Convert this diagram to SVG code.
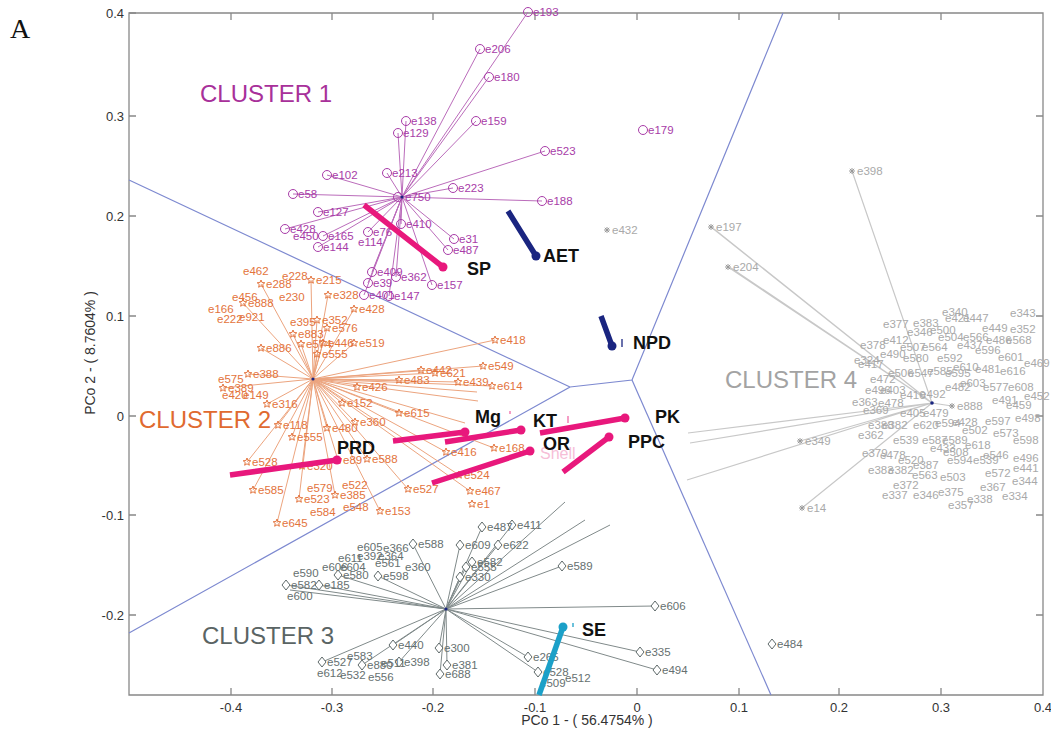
<svg xmlns="http://www.w3.org/2000/svg" width="1051" height="729" viewBox="0 0 1051 729">
<style>
text{font-family:"Liberation Sans",Arial,sans-serif}
.l1{fill:none;stroke:#bb6cbb;stroke-width:1}
.l2{fill:none;stroke:#eca47e;stroke-width:1}
.l3{fill:none;stroke:#808a8a;stroke-width:1}
.l4{fill:none;stroke:#c8c8c8;stroke-width:1.2}
.t1{font-size:11.5px;fill:#a83ca8}
.t2{font-size:11.5px;fill:#e3733c}
.t3{font-size:11.5px;fill:#667070}
.t4{font-size:11.5px;fill:#a9a9a9}
.vor{fill:none;stroke:#7d89d0;stroke-width:1.2}
.vec{fill:none;stroke-width:5.5}
.var{font-size:18px;font-weight:bold;fill:#111}
.cl{font-size:24px}
.tick{font-size:13px;fill:#333}
.ax{fill:none;stroke:#888;stroke-width:1.3}
</style>
<defs>
<circle id="m1" r="4.5" fill="none" stroke="#a83ca8" stroke-width="1"/>
<path id="m2" d="M0,-4L1.06,-1.46L3.8,-1.24L1.71,0.56L2.35,3.24L0,1.8L-2.35,3.24L-1.71,0.56L-3.8,-1.24L-1.06,-1.46Z" fill="none" stroke="#e3733c" stroke-width="1"/>
<path id="m3" d="M0,-5L4,0L0,5L-4,0Z" fill="#fff" stroke="#5f6a6a" stroke-width="1"/>
<path id="m4" d="M-3,0H3M0,-3V3M-2.2,-2.2L2.2,2.2M-2.2,2.2L2.2,-2.2" fill="none" stroke="#999" stroke-width="1"/>
</defs>
<rect width="1051" height="729" fill="#fff"/>
<text x="10" y="38" style="font-family:'Liberation Serif',serif;font-size:28px" fill="#111">A</text>

<g id="axes">
<path class="ax" d="M129,13H1043V695H129Z"/>
<path class="ax" d="M231,13v7M332,13v7M433,13v7M535,13v7M637,13v7M739,13v7M839,13v7M941,13v7M231,695v-7M332,695v-7M433,695v-7M535,695v-7M637,695v-7M739,695v-7M839,695v-7M941,695v-7M129,13h7M129,116h7M129,216h7M129,316h7M129,416h7M129,515h7M129,615h7M1043,116h-7M1043,216h-7M1043,316h-7M1043,416h-7M1043,515h-7M1043,615h-7"/>
<g class="tick" text-anchor="end">
<text x="124" y="18">0.4</text><text x="124" y="121">0.3</text><text x="124" y="221">0.2</text><text x="124" y="321">0.1</text><text x="124" y="421">0</text><text x="124" y="520">-0.1</text><text x="124" y="620">-0.2</text>
</g>
<g class="tick" text-anchor="middle">
<text x="231" y="712">-0.4</text><text x="332" y="712">-0.3</text><text x="433" y="712">-0.2</text><text x="535" y="712">-0.1</text><text x="637" y="712">0</text><text x="739" y="712">0.1</text><text x="839" y="712">0.2</text><text x="941" y="712">0.3</text><text x="1043" y="712">0.4</text>
</g>
<text x="587" y="725" text-anchor="middle" style="font-size:14px" fill="#333">PCo 1 - ( 56.4754% )</text>
<text transform="translate(95,353) rotate(-90)" text-anchor="middle" style="font-size:14px" fill="#333">PCo 2 - ( 8.7604% )</text>
</g>

<g id="boundaries">
<path class="vor" d="M129,180L570,387L129,633M570,387L632,380L783,13"/>
<path class="vor" d="M632,380L771,695" stroke="#3a45a8"/>
</g>

<g id="connectors">
<path class="l1" d="M402,197L528,12M402,197L480,49M402,197L489,77M402,197L406,121M402,197L398,133M402,197L476,121M402,197L545,151M402,197L387,173M402,197L453,188M402,197L542,201M402,197L327,175M402,197L293,194M402,197L318,212M402,197L285,229M402,197L323,236M402,197L318,247M402,197L368,232M402,197L401,224M402,197L454,239M402,197L448,250M402,197L372,272M402,197L368,283M402,197L396,277M402,197L432,285M402,197L364,295M402,197L389,296"/>
<path class="l2" d="M313,379L261,284M313,379L311,280M313,379L328,295M313,379L243,303M313,379L354,309M313,379L317,320M313,379L327,328M313,379L293,334M313,379L301,344M313,379L323,343M313,379L354,343M313,379L261,348M313,379L317,354M313,379L495,340M313,379L421,370M313,379L435,373M313,379L483,366M313,379L248,374M313,379L223,388M313,379L399,380M313,379L458,382M313,379L492,386M313,379L357,387M313,379L267,404M313,379L342,403M313,379L399,413M313,379L278,425M313,379L355,422M313,379L327,428M313,379L292,437M313,379L446,452M313,379L494,448M313,379L247,462M313,379L302,466M313,379L338,460M313,379L367,459M313,379L253,490M313,379L299,499M313,379L335,495M313,379L380,511M313,379L408,489M313,379L459,475M313,379L470,491M313,379L277,523M313,379L477,392M313,379L478,401M313,379L465,423"/>
<path class="l3" d="M446,609L482,527M446,609L512,525M446,609L413,544M446,609L460,545M446,609L498,545M446,609L338,575M446,609L378,576M446,609L472,562M446,609L466,567M446,609L460,577M446,609L562,566M446,609L286,585M446,609L319,585M446,609L655,606M446,609L393,645M446,609L439,648M446,609L322,662M446,609L399,662M446,609L362,665M446,609L447,665M446,609L440,674M446,609L528,657M446,609L538,672M446,609L640,652M446,609L657,670M446,609L565,502M446,609L585,520M446,609L610,525M446,609L290,590"/>
<path class="l4" d="M932,403L852,171M932,403L711,227M932,403L714,229M932,403L728,267M932,403L731,268M932,403L800,441M932,403L802,508M932,403L688,433M932,403L690,443M932,403L687,480M932,403L952,406"/>
</g>

<g id="cluster1">
<text class="cl" x="200" y="102" fill="#a8309a">CLUSTER 1</text>
<use href="#m1" x="528" y="12"/><use href="#m1" x="480" y="49"/><use href="#m1" x="489" y="77"/><use href="#m1" x="406" y="121"/><use href="#m1" x="398" y="133"/><use href="#m1" x="476" y="121"/><use href="#m1" x="545" y="151"/><use href="#m1" x="387" y="173"/><use href="#m1" x="453" y="188"/><use href="#m1" x="542" y="201"/><use href="#m1" x="327" y="175"/><use href="#m1" x="293" y="194"/><use href="#m1" x="318" y="212"/><use href="#m1" x="285" y="229"/><use href="#m1" x="323" y="236"/><use href="#m1" x="318" y="247"/><use href="#m1" x="368" y="232"/><use href="#m1" x="401" y="224"/><use href="#m1" x="454" y="239"/><use href="#m1" x="448" y="250"/><use href="#m1" x="372" y="272"/><use href="#m1" x="368" y="283"/><use href="#m1" x="396" y="277"/><use href="#m1" x="432" y="285"/><use href="#m1" x="364" y="295"/><use href="#m1" x="389" y="296"/><use href="#m1" x="398" y="197"/><use href="#m1" x="643" y="130"/>
<g class="t1">
<text x="533" y="16">e193</text><text x="485" y="53">e206</text><text x="494" y="81">e180</text><text x="411" y="125">e138</text><text x="403" y="137">e129</text><text x="481" y="125">e159</text><text x="550" y="155">e523</text><text x="392" y="177">e213</text><text x="458" y="192">e223</text><text x="547" y="205">e188</text><text x="332" y="179">e102</text><text x="298" y="198">e58</text><text x="323" y="216">e127</text><text x="290" y="233">e428</text><text x="293" y="240">e450</text><text x="328" y="240">e165</text><text x="323" y="251">e144</text><text x="373" y="236">e76</text><text x="358" y="246">e114</text><text x="406" y="228">e410</text><text x="459" y="243">e31</text><text x="453" y="254">e487</text><text x="377" y="276">e409</text><text x="373" y="287">e39</text><text x="401" y="281">e362</text><text x="437" y="289">e157</text><text x="369" y="299">e401</text><text x="394" y="300">e147</text><text x="405" y="201">e750</text><text x="648" y="134">e179</text>
</g>
<circle cx="402" cy="197" r="1.6" fill="#1a2580"/>
</g>

<g id="cluster2">
<text class="cl" x="139" y="428" fill="#e06a30">CLUSTER 2</text>
<use href="#m2" x="261" y="284"/><use href="#m2" x="311" y="280"/><use href="#m2" x="328" y="295"/><use href="#m2" x="243" y="303"/><use href="#m2" x="354" y="309"/><use href="#m2" x="317" y="320"/><use href="#m2" x="327" y="328"/><use href="#m2" x="293" y="334"/><use href="#m2" x="301" y="344"/><use href="#m2" x="323" y="343"/><use href="#m2" x="354" y="343"/><use href="#m2" x="261" y="348"/><use href="#m2" x="317" y="354"/><use href="#m2" x="495" y="340"/><use href="#m2" x="421" y="370"/><use href="#m2" x="435" y="373"/><use href="#m2" x="483" y="366"/><use href="#m2" x="248" y="374"/><use href="#m2" x="223" y="388"/><use href="#m2" x="399" y="380"/><use href="#m2" x="458" y="382"/><use href="#m2" x="492" y="386"/><use href="#m2" x="357" y="387"/><use href="#m2" x="267" y="404"/><use href="#m2" x="342" y="403"/><use href="#m2" x="399" y="413"/><use href="#m2" x="278" y="425"/><use href="#m2" x="355" y="422"/><use href="#m2" x="327" y="428"/><use href="#m2" x="292" y="437"/><use href="#m2" x="446" y="452"/><use href="#m2" x="494" y="448"/><use href="#m2" x="247" y="462"/><use href="#m2" x="302" y="466"/><use href="#m2" x="338" y="460"/><use href="#m2" x="367" y="459"/><use href="#m2" x="253" y="490"/><use href="#m2" x="299" y="499"/><use href="#m2" x="335" y="495"/><use href="#m2" x="380" y="511"/><use href="#m2" x="408" y="489"/><use href="#m2" x="459" y="475"/><use href="#m2" x="470" y="491"/><use href="#m2" x="472" y="504"/><use href="#m2" x="277" y="523"/>
<g class="t2">
<text x="266" y="288">e288</text><text x="316" y="284">e215</text><text x="333" y="299">e328</text><text x="248" y="307">e888</text><text x="359" y="313">e428</text><text x="322" y="324">e352</text><text x="332" y="332">e576</text><text x="298" y="338">e883</text><text x="306" y="348">e574</text><text x="328" y="347">e446</text><text x="359" y="347">e519</text><text x="266" y="352">e886</text><text x="322" y="358">e555</text><text x="500" y="344">e418</text><text x="426" y="374">e442</text><text x="440" y="377">e621</text><text x="488" y="370">e549</text><text x="253" y="378">e388</text><text x="228" y="392">e389</text><text x="404" y="384">e483</text><text x="463" y="386">e439</text><text x="497" y="390">e614</text><text x="362" y="391">e426</text><text x="272" y="408">e316</text><text x="347" y="407">e152</text><text x="404" y="417">e615</text><text x="283" y="429">e118</text><text x="360" y="426">e360</text><text x="332" y="432">e480</text><text x="297" y="441">e555</text><text x="451" y="456">e416</text><text x="499" y="452">e168</text><text x="252" y="466">e528</text><text x="307" y="470">e320</text><text x="343" y="464">e89</text><text x="372" y="463">e588</text><text x="258" y="494">e585</text><text x="304" y="503">e523</text><text x="340" y="499">e385</text><text x="385" y="515">e153</text><text x="413" y="493">e527</text><text x="464" y="479">e524</text><text x="475" y="495">e467</text><text x="477" y="508">e1</text><text x="282" y="527">e645</text>
<text x="243" y="275">e462</text><text x="282" y="280">e228</text><text x="279" y="301">e230</text><text x="232" y="301">e456</text><text x="208" y="313">e166</text><text x="217" y="323">e222</text><text x="239" y="321">e921</text><text x="290" y="326">e395</text><text x="218" y="383">e575</text><text x="222" y="399">e420</text><text x="243" y="399">e149</text><text x="307" y="492">e579</text><text x="342" y="489">e522</text><text x="310" y="516">e584</text><text x="343" y="511">e548</text>
</g>
<circle cx="313" cy="379" r="1.6" fill="#1a2580"/>
</g>

<g id="cluster3">
<text class="cl" x="202" y="644" fill="#5a6464">CLUSTER 3</text>
<use href="#m3" x="482" y="527"/><use href="#m3" x="512" y="525"/><use href="#m3" x="413" y="544"/><use href="#m3" x="460" y="545"/><use href="#m3" x="498" y="545"/><use href="#m3" x="338" y="575"/><use href="#m3" x="378" y="576"/><use href="#m3" x="472" y="562"/><use href="#m3" x="466" y="567"/><use href="#m3" x="460" y="577"/><use href="#m3" x="562" y="566"/><use href="#m3" x="286" y="585"/><use href="#m3" x="319" y="585"/><use href="#m3" x="655" y="606"/><use href="#m3" x="393" y="645"/><use href="#m3" x="439" y="648"/><use href="#m3" x="322" y="662"/><use href="#m3" x="399" y="662"/><use href="#m3" x="362" y="665"/><use href="#m3" x="447" y="665"/><use href="#m3" x="440" y="674"/><use href="#m3" x="528" y="657"/><use href="#m3" x="538" y="672"/><use href="#m3" x="640" y="652"/><use href="#m3" x="657" y="670"/><use href="#m3" x="772" y="644"/>
<g class="t3">
<text x="487" y="531">e487</text><text x="517" y="529">e411</text><text x="418" y="548">e588</text><text x="465" y="549">e609</text><text x="503" y="549">e622</text><text x="343" y="579">e580</text><text x="383" y="580">e598</text><text x="477" y="566">e582</text><text x="471" y="571">e555</text><text x="465" y="581">e330</text><text x="567" y="570">e589</text><text x="291" y="589">e582</text><text x="324" y="589">e185</text><text x="660" y="610">e606</text><text x="398" y="649">e440</text><text x="444" y="652">e300</text><text x="327" y="666">e527</text><text x="404" y="666">e398</text><text x="367" y="669">e880</text><text x="452" y="669">e381</text><text x="445" y="678">e688</text><text x="533" y="661">e265</text><text x="543" y="676">e528</text><text x="645" y="656">e335</text><text x="662" y="674">e494</text><text x="777" y="648">e484</text>
<text x="357" y="551">e605</text><text x="383" y="552">e366</text><text x="338" y="562">e611</text><text x="357" y="560">e392</text><text x="378" y="560">e364</text><text x="375" y="567">e561</text><text x="322" y="571">e606</text><text x="340" y="571">e604</text><text x="405" y="571">e360</text><text x="293" y="577">e590</text><text x="287" y="600">e600</text><text x="347" y="660">e583</text><text x="317" y="677">e612</text><text x="340" y="679">e532</text><text x="368" y="681">e556</text><text x="381" y="667">e511</text><text x="540" y="687">e509</text><text x="565" y="682">e512</text>
</g>
<circle cx="446" cy="609" r="1.6" fill="#1a2580"/>
</g>

<g id="cluster4">
<text class="cl" x="725" y="388" fill="#a3a3a3">CLUSTER 4</text>
<use href="#m4" x="852" y="171"/><use href="#m4" x="711" y="227"/><use href="#m4" x="728" y="267"/><use href="#m4" x="800" y="441"/><use href="#m4" x="802" y="508"/><use href="#m4" x="607" y="230"/><use href="#m4" x="952" y="406"/>
<g class="t4">
<text x="857" y="175">e398</text><text x="716" y="231">e197</text><text x="733" y="271">e204</text><text x="805" y="445">e349</text><text x="807" y="512">e14</text><text x="612" y="234">e432</text><text x="957" y="410">e888</text>
<text x="942" y="316">e340</text><text x="1010" y="317">e343</text><text x="945" y="322">e421</text><text x="963" y="322">e447</text><text x="883" y="328">e377</text><text x="913" y="327">e383</text><text x="907" y="336">e346</text><text x="930" y="334">e500</text><text x="982" y="332">e449</text><text x="1010" y="333">e352</text><text x="938" y="341">e504</text><text x="963" y="341">e566</text><text x="986" y="344">e486</text><text x="1006" y="344">e568</text><text x="860" y="349">e378</text><text x="883" y="344">e412</text><text x="900" y="351">e507</text><text x="922" y="351">e564</text><text x="957" y="349">e437</text><text x="975" y="354">e596</text><text x="998" y="361">e601</text><text x="1024" y="367">e469</text><text x="880" y="358">e490</text><text x="903" y="362">e580</text><text x="937" y="362">e592</text><text x="854" y="364">e324</text><text x="858" y="368">e417</text><text x="953" y="371">e610</text><text x="975" y="373">e481</text><text x="1000" y="375">e616</text><text x="888" y="377">e506</text><text x="908" y="377">e547</text><text x="927" y="375">e585</text><text x="945" y="377">e595</text><text x="870" y="383">e472</text><text x="960" y="387">e603</text><text x="983" y="391">e577</text><text x="1008" y="391">e608</text><text x="945" y="391">e482</text><text x="865" y="394">e496</text><text x="880" y="394">e403</text><text x="900" y="399">e410</text><text x="920" y="398">e492</text><text x="852" y="406">e363</text><text x="878" y="407">e478</text><text x="992" y="404">e491</text><text x="1006" y="409">e459</text><text x="1024" y="400">e452</text><text x="863" y="414">e369</text><text x="900" y="417">e405</text><text x="923" y="417">e479</text><text x="985" y="425">e597</text><text x="1015" y="422">e498</text><text x="952" y="426">e428</text><text x="935" y="427">e594</text><text x="868" y="429">e388</text><text x="882" y="429">e382</text><text x="913" y="429">e620</text><text x="962" y="434">e502</text><text x="993" y="437">e573</text><text x="1013" y="444">e598</text><text x="858" y="439">e362</text><text x="893" y="444">e539</text><text x="922" y="444">e587</text><text x="942" y="444">e589</text><text x="965" y="449">e618</text><text x="930" y="452">e433</text><text x="943" y="456">e508</text><text x="862" y="457">e379</text><text x="880" y="459">e478</text><text x="898" y="464">e520</text><text x="913" y="469">e387</text><text x="983" y="459">e546</text><text x="947" y="464">e594</text><text x="973" y="464">e539</text><text x="1013" y="462">e496</text><text x="868" y="474">e383</text><text x="888" y="474">e382</text><text x="912" y="479">e563</text><text x="940" y="481">e503</text><text x="985" y="477">e572</text><text x="1013" y="472">e441</text><text x="893" y="489">e372</text><text x="980" y="491">e367</text><text x="1012" y="485">e344</text><text x="882" y="499">e337</text><text x="913" y="499">e346</text><text x="938" y="496">e375</text><text x="948" y="509">e357</text><text x="967" y="503">e338</text><text x="1002" y="500">e334</text>
</g>
<circle cx="932" cy="403" r="1.8" fill="#1a2580"/>
</g>

<g id="vectors">
<path class="vec" stroke="#e8187c" d="M364,205L443,267M230,475L337,460M393,441L465,432M445,442L521,430M540,433L625,418M432,483L530,451M563,472L609,437"/>
<path class="vec" stroke="#1a2580" d="M508,211L536,256M601,316L612,346"/>
<path class="vec" stroke="#1ba0c8" d="M539,695L563,627"/>
<g fill="#e8187c">
<circle cx="443" cy="267" r="4.5"/><circle cx="337" cy="460" r="4.5"/><circle cx="465" cy="432" r="4.5"/><circle cx="521" cy="430" r="4.5"/><circle cx="625" cy="418" r="4.5"/><circle cx="530" cy="451" r="4.5"/><circle cx="609" cy="437" r="4.5"/>
</g>
<circle cx="536" cy="256" r="4.5" fill="#1a2580"/><circle cx="612" cy="346" r="4.5" fill="#1a2580"/>
<circle cx="563" cy="627" r="4.5" fill="#1ba0c8"/>
<path d="M510,411v3M568,416v7" stroke="#f06aa8" stroke-width="1.3" fill="none"/>
<path d="M622,339v8" stroke="#1a2580" stroke-width="1.3"/>
<path d="M573,623v4" stroke="#1ba0c8" stroke-width="1.3"/>
<text x="540" y="459" style="font-size:16px" fill="#f08ab8" opacity="0.55">Shell</text>
<g class="var">
<text x="467" y="275">SP</text><text x="543" y="262">AET</text><text x="633" y="349">NPD</text><text x="337" y="454">PRD</text><text x="475" y="423">Mg</text><text x="533" y="427">KT</text><text x="655" y="423">PK</text><text x="543" y="450">OR</text><text x="628" y="448">PPC</text><text x="582" y="636">SE</text>
</g>
</g>
</svg>
